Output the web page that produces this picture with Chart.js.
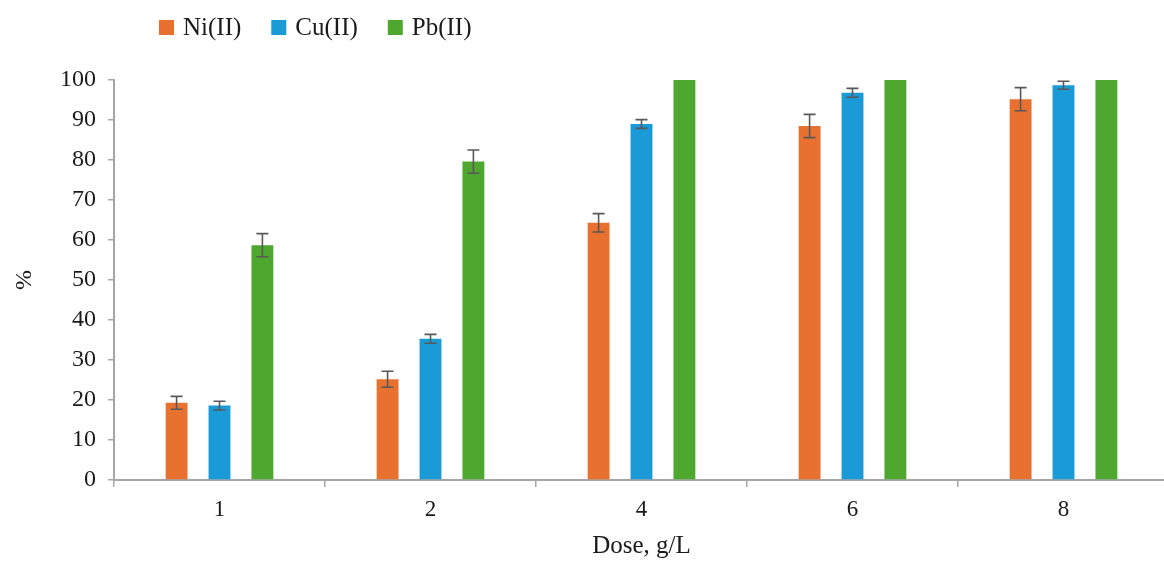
<!DOCTYPE html>
<html>
<head>
<meta charset="utf-8">
<title>Removal vs dose</title>
<script src="https://cdn.jsdelivr.net/npm/chart.js@4.4.1/dist/chart.umd.min.js"></script>
<style>
  html, body { margin: 0; padding: 0; background: #ffffff; overflow: hidden; }
  #wrap { position: relative; width: 1170px; height: 561px; }
</style>
</head>
<body>
<div id="wrap"><canvas id="chart"></canvas></div>
<script>
// Adsorbent dose (g/L) on the x axis
const doses = ['1', '2', '4', '6', '8'];

// Removal (%) for each metal ion
const niValues = [19.3, 25.2, 64.3, 88.5, 95.2];
const cuValues = [18.6, 35.3, 89.0, 96.8, 98.7];
const pbValues = [58.7, 79.6, 100, 100, 100];

// Standard deviations shown as error bars
const niErrors = [1.6, 2.0, 2.3, 2.9, 2.9];
const cuErrors = [1.1, 1.1, 1.1, 1.1, 1.0];
const pbErrors = [2.9, 2.9, 0, 0, 0];

const seriesNames = ['Ni(II)', 'Cu(II)', 'Pb(II)'];
const seriesColors = ['#E8712F', '#1A9AD6', '#4EA72E'];

const yTicks = [0, 10, 20, 30, 40, 50, 60, 70, 80, 90, 100];

const serif = "'Liberation Serif', 'Times New Roman', serif";
const axisGrey = '#A6A6A6';
const textColor = '#1a1a1a';

// Vertical error bars with caps, positioned through the chart scales
const errorBars = {
  id: 'errorBars',
  afterDatasetsDraw(chart) {
    const ctx = chart.ctx;
    const y = chart.scales.y;
    ctx.save();
    ctx.strokeStyle = '#595959';
    ctx.lineWidth = 1.6;
    chart.data.datasets.forEach((ds, i) => {
      const meta = chart.getDatasetMeta(i);
      meta.data.forEach((bar, j) => {
        const err = ds.errors[j];
        if (!err) return;
        const v = ds.data[j];
        const top = y.getPixelForValue(v + err);
        const bot = y.getPixelForValue(v - err);
        const cap = 6;
        ctx.beginPath();
        ctx.moveTo(bar.x, top); ctx.lineTo(bar.x, bot);
        ctx.moveTo(bar.x - cap, top); ctx.lineTo(bar.x + cap, top);
        ctx.moveTo(bar.x - cap, bot); ctx.lineTo(bar.x + cap, bot);
        ctx.stroke();
      });
    });
    ctx.restore();
  }
};

// Legend row in the top-left corner
const topLegend = {
  id: 'topLegend',
  afterDraw(chart) {
    const ctx = chart.ctx;
    ctx.save();
    ctx.font = '25px ' + serif;
    ctx.textBaseline = 'middle';
    ctx.textAlign = 'left';
    let x = 159;
    const cy = 27;
    chart.data.datasets.forEach(ds => {
      ctx.fillStyle = ds.backgroundColor;
      ctx.fillRect(x, cy - 7, 15, 15);
      ctx.fillStyle = textColor;
      ctx.fillText(ds.label, x + 24, cy + 1);
      x += 24 + ctx.measureText(ds.label).width + 30;
    });
    ctx.restore();
  }
};

const datasets = [
  { label: seriesNames[0], data: niValues, errors: niErrors },
  { label: seriesNames[1], data: cuValues, errors: cuErrors },
  { label: seriesNames[2], data: pbValues, errors: pbErrors }
].map((d, i) => Object.assign(d, {
  backgroundColor: seriesColors[i],
  borderWidth: 0,
  categoryPercentage: 0.61,
  barPercentage: 0.51
}));

new Chart(document.getElementById('chart'), {
  type: 'bar',
  data: { labels: doses, datasets },
  options: {
    responsive: true,
    maintainAspectRatio: false,
    animation: false,
    layout: { padding: { top: 80, right: 1, bottom: 0, left: 0 } },
    plugins: {
      legend: { display: false },
      tooltip: { enabled: false }
    },
    scales: {
      x: {
        grid: {
          offset: true,
          drawOnChartArea: false,
          drawTicks: true,
          tickLength: 7,
          color: axisGrey,
          lineWidth: 1.5
        },
        border: { color: axisGrey, width: 2 },
        ticks: {
          color: textColor,
          font: { family: serif, size: 23 },
          padding: 9
        },
        title: {
          display: true,
          text: 'Dose, g/L',
          color: textColor,
          font: { family: serif, size: 25 },
          padding: { top: 10, bottom: 0 }
        },
        afterFit(scale) { scale.height = 81; }
      },
      y: {
        min: 0,
        max: 100,
        afterBuildTicks(scale) { scale.ticks = yTicks.map(v => ({ value: v })); },
        grid: {
          drawOnChartArea: false,
          drawTicks: true,
          tickLength: 6,
          color: axisGrey,
          lineWidth: 1.5
        },
        border: { color: axisGrey, width: 2 },
        ticks: {
          color: textColor,
          font: { family: serif, size: 24 },
          padding: 12
        },
        title: {
          display: true,
          text: '%',
          color: textColor,
          font: { family: serif, size: 24 },
          padding: { top: 10, bottom: 0 }
        },
        afterFit(scale) { scale.width = 114; }
      }
    }
  },
  plugins: [errorBars, topLegend]
});
</script>
</body>
</html>
